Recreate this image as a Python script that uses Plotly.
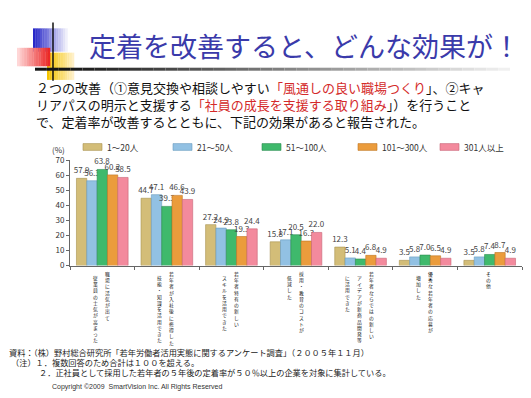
import plotly.graph_objects as go

W, H = 531, 398

# ---------------- data ----------------
series_names = ["1〜20人", "21〜50人", "51〜100人", "101〜300人", "301人以上"]
category_lines = [
    ["職場に活気が出て", "従業員の士気が高まった"],
    ["若年者が入社後に修得した", "技能・知識を活用できた"],
    ["若年者特有の新しい", "スキルを活用できた"],
    ["採用・教育のコストが", "低減した"],
    ["若年者ならではの新しい", "アイデアが新商品開発等", "に活用できた"],
    ["優秀な若年者の応募が", "増加した"],
    ["その他"],
]
categories = ["".join(c) for c in category_lines]
v_1_20 = [57.9, 44.7, 27.2, 15.8, 12.3, 3.5, 3.5]
v_21_50 = [56.3, 47.1, 24.9, 17.1, 5.1, 5.8, 5.8]
v_51_100 = [63.8, 39.3, 23.8, 20.5, 4.4, 7.0, 7.4]
v_101_300 = [60.2, 46.6, 19.3, 16.3, 6.8, 6.5, 8.7]
v_301_plus = [58.5, 43.9, 24.4, 22.0, 4.9, 4.9, 4.9]
y_ticks = [0, 10, 20, 30, 40, 50, 60, 70]

title_text = "定着を改善すると、どんな効果が！"
body_lines = [
    [("２つの改善（①意見交換や相談しやすい", "#111"), ("「風通しの良い職場つくり", "#d42a2a"), ("」、②キャ", "#111")],
    [("リアパスの明示と支援する", "#111"), ("「社員の成長を支援する取り組み", "#d42a2a"), ("」）を行うこと", "#111")],
    [("で、定着率が改善するとともに、下記の効果があると報告された。", "#111")],
]
note_lines = [
    "資料：（株）野村総合研究所「若年労働者活用実態に関するアンケート調査」（２００５年１１月）",
    "（注）１．複数回答のため合計は１００を超える。",
    "２．正社員として採用した若年者の５年後の定着率が５０％以上の企業を対象に集計している。",
]
copyright_text = "Copyright ©2009  SmartVision Inc. All Rights Reserved"

# ---------------- styles ----------------
colors = ["#d3bd78", "#92c1e3", "#3fb96c", "#eb9c3c", "#f38a9d"]
edges = ["#a8924f", "#6a9cc0", "#2a8c4f", "#bf7622", "#c86477"]
JP = "Noto Sans CJK JP, Noto Sans, sans-serif"

def px_x(p):
    return p / W

def px_y(p):
    return 1 - p / H

fig = go.Figure()
all_vals = [v_1_20, v_21_50, v_51_100, v_101_300, v_301_plus]
for name, vals, c, e in zip(series_names, all_vals, colors, edges):
    fig.add_trace(go.Bar(
        x=categories, y=vals, name=name,
        marker=dict(color=c, line=dict(color=e, width=0.6)),
        text=[f"{v:.1f}" for v in vals], textposition="outside",
        textfont=dict(size=8, color="#444", family=JP),
        cliponaxis=False, constraintext="none", showlegend=False,
    ))

shapes = []
annotations = []

# --- decorative title graphics ---
def grad_rect(x0, x1, y0, y1, c0, c1, n=14):
    for i in range(n):
        t = i / (n - 1)
        r = int(c0[0] + (c1[0] - c0[0]) * t)
        g = int(c0[1] + (c1[1] - c0[1]) * t)
        b = int(c0[2] + (c1[2] - c0[2]) * t)
        xa = x0 + (x1 - x0) * i / n
        xb = x0 + (x1 - x0) * (i + 1) / n
        shapes.append(dict(type="rect", xref="paper", yref="paper",
                           x0=px_x(xa), x1=px_x(xb) + 0.0005, y0=px_y(y1), y1=px_y(y0),
                           fillcolor=f"rgb({r},{g},{b})", line=dict(width=0),
                           layer="above"))

grad_rect(33, 70, 23, 47, (40, 40, 200), (255, 255, 255), n=16)
grad_rect(47, 74, 48, 76, (245, 196, 0), (255, 240, 200), n=12)
grad_rect(17, 50, 43, 62, (255, 215, 215), (235, 40, 40), n=14)
shapes.append(dict(type="line", xref="paper", yref="paper",
                   x0=px_x(53), x1=px_x(53), y0=px_y(17), y1=px_y(77),
                   line=dict(color="#111", width=1.5), layer="above"))
nseg = 40
for i in range(nseg):
    t = i / (nseg - 1)
    xa = 35 + (510 - 35) * i / nseg
    xb = 35 + (510 - 35) * (i + 1) / nseg
    g = int(20 + 220 * max(0, (t - 0.05)) / 0.95)
    shapes.append(dict(type="line", xref="paper", yref="paper",
                       x0=px_x(xa), x1=px_x(xb), y0=px_y(65), y1=px_y(65),
                       line=dict(color=f"rgb({g},{g},{g})", width=3), layer="above"))

annotations.append(dict(text=title_text, xref="paper", yref="paper",
                        x=px_x(88), y=px_y(41), xanchor="left", yanchor="middle",
                        showarrow=False, borderpad=0,
                        font=dict(size=27, color="#3a3aaa", family=JP)))

# --- body text (one block, three lines) ---
body_txt = "<br>".join(
    "".join(f"<span style='color:{c}'>{s}</span>" for s, c in line) for line in body_lines)
annotations.append(dict(text=body_txt, xref="paper", yref="paper", align="left",
                        x=px_x(35), y=px_y(101.5), xanchor="left", yanchor="middle",
                        showarrow=False, borderpad=0,
                        font=dict(size=13, color="#111", family=JP)))

# --- manual legend ---
leg_x = [83, 173, 262, 358, 440]
for name, c, e, lx in zip(series_names, colors, edges, leg_x):
    shapes.append(dict(type="rect", xref="paper", yref="paper",
                       x0=px_x(lx), x1=px_x(lx + 19), y0=px_y(148.5), y1=px_y(141.5),
                       fillcolor=c, line=dict(color=e, width=0.6)))
    annotations.append(dict(text=name, xref="paper", yref="paper",
                            x=px_x(lx + 22), y=px_y(145), xanchor="left", yanchor="middle",
                            showarrow=False, font=dict(size=8.5, color="#333", family=JP)))

annotations.append(dict(text="(%)", xref="paper", yref="paper",
                        x=px_x(58), y=px_y(147.5), xanchor="center", yanchor="middle",
                        showarrow=False, borderpad=0,
                        font=dict(size=8, color="#333", family=JP)))

# --- vertical category labels (one column per text line, right to left) ---
for cat, lines in zip(categories, category_lines):
    n = len(lines)
    for j, line in enumerate(lines):
        dx = -1 + (n - 1) / 2 * 12 - j * 12
        top = 270 if j == 0 else 275
        annotations.append(dict(text="<br>".join(line), xref="x", yref="paper",
                                x=cat, xshift=dx, y=px_y(top),
                                xanchor="center", yanchor="top", showarrow=False,
                                borderpad=0,
                                font=dict(size=4.8, color="#111", family=JP)))

# --- notes ---
note_pos = [(8, 355.5), (10, 366), (38, 376.5)]
for txt, (nx, ny) in zip(note_lines, note_pos):
    annotations.append(dict(text=txt, xref="paper", yref="paper",
                            x=px_x(nx), y=px_y(ny), xanchor="left", yanchor="middle",
                            showarrow=False, borderpad=0,
                            font=dict(size=8.2, color="#222", family=JP)))
annotations.append(dict(text=copyright_text, xref="paper", yref="paper",
                        x=px_x(51), y=px_y(391.5), xanchor="left", yanchor="middle",
                        showarrow=False, borderpad=0,
                        font=dict(size=7, color="#333",
                                  family="Liberation Sans Narrow, Liberation Sans, Arial")))

fig.update_layout(
    width=W, height=H, margin=dict(l=0, r=0, t=0, b=0),
    paper_bgcolor="white", plot_bgcolor="white",
    barmode="group", bargap=0.2, bargroupgap=0.0,
    shapes=shapes, annotations=annotations, showlegend=False,
    xaxis=dict(domain=[px_x(70), px_x(522)], type="category", showline=True,
               linecolor="#666", linewidth=1, ticks="outside", tickson="boundaries",
               ticklen=3, tickcolor="#666", showticklabels=False, showgrid=False,
               zeroline=False, fixedrange=True),
    yaxis=dict(domain=[px_y(267), px_y(158.5)], range=[0, 70], tickvals=y_ticks,
               showline=True, linecolor="#666", linewidth=1, ticks="outside",
               ticklen=3, tickcolor="#666", showgrid=False, zeroline=False,
               tickfont=dict(size=8, color="#333", family=JP), fixedrange=True),
)

fig.write_html("out.html", config={"displayModeBar": False},
               post_script="document.body.style.margin='0px';"
                           "document.documentElement.style.overflow='hidden';")
